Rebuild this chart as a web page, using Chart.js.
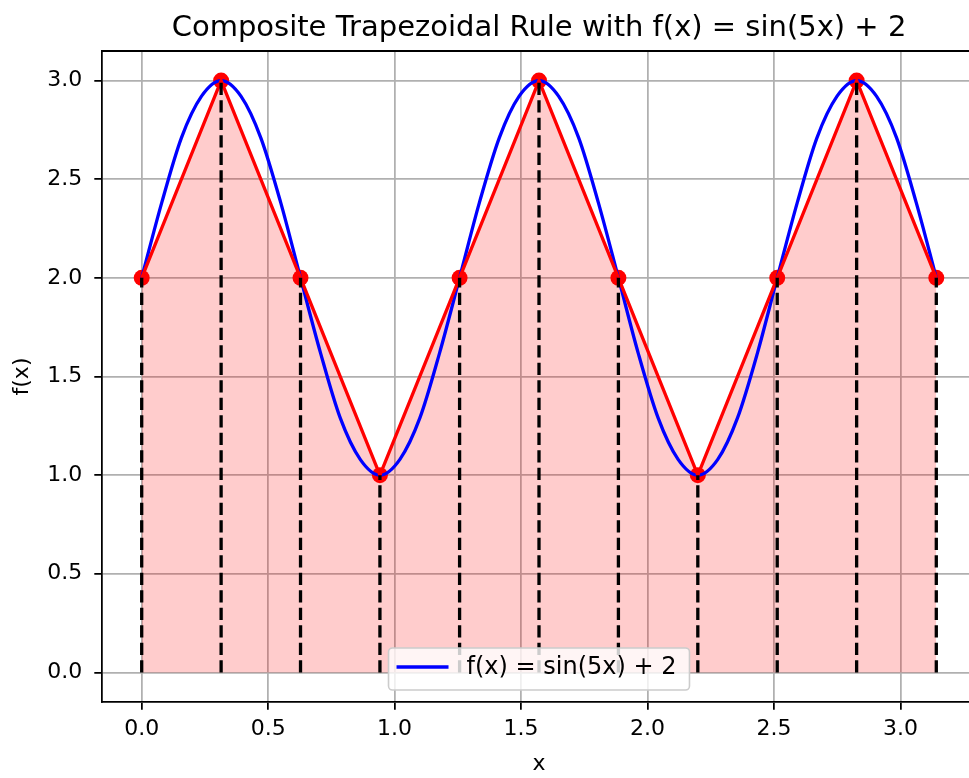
<!DOCTYPE html>
<html>
<head>
<meta charset="utf-8">
<script src="https://cdn.jsdelivr.net/npm/chart.js@4.4.0/dist/chart.umd.min.js"></script>
<style>
  html, body { margin: 0; padding: 0; background: #fff; overflow: hidden; width: 969px; height: 778px; }
  canvas { display: block; }
</style>
</head>
<body>
<canvas id="graph" width="985" height="778"></canvas>
<script>
// trapezoid nodes (x = k*pi/10)
var nodeX = [0, 0.314, 0.628, 0.942, 1.257, 1.571, 1.885, 2.199, 2.513, 2.827, 3.142];
var nodeY = [2, 3, 2, 1, 2, 3, 2, 1, 2, 3, 2];

// curve samples
var curveX = [0, 0.079, 0.157, 0.236, 0.314, 0.393, 0.471, 0.550, 0.628, 0.707,
  0.785, 0.864, 0.942, 1.021, 1.100, 1.178, 1.257, 1.335, 1.414, 1.492,
  1.571, 1.649, 1.728, 1.806, 1.885, 1.963, 2.042, 2.121, 2.199, 2.278,
  2.356, 2.435, 2.513, 2.592, 2.670, 2.749, 2.827, 2.906, 2.985, 3.063, 3.142];
var curveY = [2, 2.38, 2.71, 2.92, 3, 2.92, 2.71, 2.38, 2, 1.62,
  1.29, 1.08, 1, 1.08, 1.29, 1.62, 2, 2.38, 2.71, 2.92,
  3, 2.92, 2.71, 2.38, 2, 1.62, 1.29, 1.08, 1, 1.08,
  1.29, 1.62, 2, 2.38, 2.71, 2.92, 3, 2.92, 2.71, 2.38, 2];

var titleText = "Composite Trapezoidal Rule with f(x) = sin(5x) + 2";
var xLabel = "x";
var yLabel = "f(x)";
var curveLabel = "f(x) = sin(5x) + 2";

var FONT = "'DejaVu Sans', sans-serif";
var LW = 3.3;

function pts(xs, ys) {
  var out = [];
  for (var i = 0; i < xs.length; i++) out.push({ x: xs[i], y: ys[i] });
  return out;
}

var datasets = [];
// dashed verticals on top
for (var i = 0; i < nodeX.length; i++) {
  datasets.push({
    label: "v" + i,
    data: [{ x: nodeX[i], y: 0 }, { x: nodeX[i], y: nodeY[i] }],
    borderColor: "black",
    borderWidth: LW,
    borderDash: [12.2, 5.3],
    pointRadius: 0
  });
}
datasets.push({
  label: "trap",
  data: pts(nodeX, nodeY),
  borderColor: "red",
  borderWidth: LW,
  backgroundColor: "rgba(255,0,0,0.2)",
  fill: "origin",
  pointRadius: 0
});
datasets.push({
  label: curveLabel,
  data: pts(curveX, curveY),
  borderColor: "blue",
  borderWidth: LW,
  cubicInterpolationMode: "monotone",
  pointRadius: 0,
  isCurve: true
});
datasets.push({
  label: "nodes",
  data: pts(nodeX, nodeY),
  showLine: false,
  pointRadius: 8,
  pointBackgroundColor: "red",
  pointBorderWidth: 0,
  borderColor: "red"
});

var decor = {
  id: "decor",
  afterDraw: function(chart) {
    var c = chart.ctx, a = chart.chartArea;
    c.save();
    // top spine
    c.strokeStyle = "black";
    c.lineWidth = 1.76;
    c.beginPath();
    c.moveTo(a.left, a.top);
    c.lineTo(a.right, a.top);
    c.lineTo(a.right, a.bottom);
    c.stroke();

    var cx = (a.left + a.right) / 2;
    c.fillStyle = "black";
    c.textAlign = "center";
    c.textBaseline = "middle";
    c.font = "29px " + FONT;
    c.fillText(titleText, cx, 28);
    c.font = "22px " + FONT;
    c.fillText(xLabel, cx, 764);
    c.save();
    c.translate(22, (a.top + a.bottom) / 2);
    c.rotate(-Math.PI / 2);
    c.fillText(yLabel, 0, 0);
    c.restore();

    // legend
    var ds = chart.data.datasets.filter(function(d) { return d.isCurve; })[0];
    c.font = "24px " + FONT;
    var tw = c.measureText(ds.label).width;
    var w = 78 + tw + 13, h = 42;
    var lx = cx - w / 2, ly = 648;
    c.beginPath();
    c.roundRect(lx, ly, w, h, 4);
    c.fillStyle = "rgba(255,255,255,0.8)";
    c.fill();
    c.strokeStyle = "#cccccc";
    c.lineWidth = 1.6;
    c.stroke();
    c.strokeStyle = ds.borderColor;
    c.lineWidth = LW;
    c.beginPath();
    c.moveTo(lx + 8, ly + 19);
    c.lineTo(lx + 60, ly + 19);
    c.stroke();
    c.fillStyle = "black";
    c.textAlign = "left";
    c.fillText(ds.label, lx + 78, ly + 20);
    c.restore();
  }
};

var tickFont = { family: FONT, size: 22 };

var chart = new Chart(document.getElementById("graph").getContext("2d"), {
  type: "line",
  data: { datasets: datasets },
  options: {
    responsive: false,
    animation: false,
    layout: { padding: { left: 0, right: 9, top: 51, bottom: 0 } },
    plugins: {
      legend: { display: false },
      tooltip: { enabled: false },
      filler: { drawTime: "beforeDatasetsDraw" }
    },
    scales: {
      x: {
        type: "linear",
        min: -0.157,
        max: 3.299,
        afterFit: function(s) { s.height = 76; },
        ticks: {
          stepSize: 0.5,
          includeBounds: false,
          maxRotation: 0,
          autoSkip: false,
          padding: 6,
          color: "black",
          font: tickFont,
          callback: function(v) { return v.toFixed(1); }
        },
        grid: { color: "#b0b0b0", lineWidth: 1.76, tickColor: "black", tickLength: 7.7, tickWidth: 1.76 },
        border: { color: "black", width: 1.76 }
      },
      y: {
        type: "linear",
        min: -0.15,
        max: 3.15,
        afterFit: function(s) { s.width = 102; },
        ticks: {
          stepSize: 0.5,
          includeBounds: false,
          padding: 12,
          color: "black",
          font: tickFont,
          callback: function(v) { return v.toFixed(1); }
        },
        grid: { color: "#b0b0b0", lineWidth: 1.76, tickColor: "black", tickLength: 7.7, tickWidth: 1.76 },
        border: { color: "black", width: 1.76 }
      }
    }
  },
  plugins: [decor]
});
</script>
</body>
</html>
